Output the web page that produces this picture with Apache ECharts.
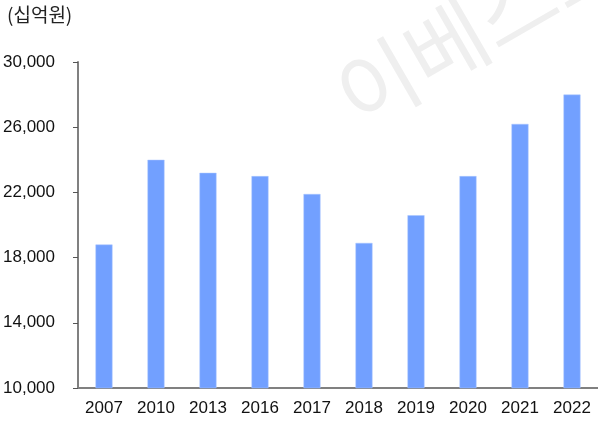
<!DOCTYPE html>
<html>
<head>
<meta charset="utf-8">
<script src="https://cdn.jsdelivr.net/npm/echarts@6/dist/echarts.min.js"></script>
<style>
html,body{margin:0;padding:0;background:#fff;}
#chart{width:598px;height:421px;}
</style>
</head>
<body>
<div id="chart"></div>
<script>
// 연도별 값 (십억원)
var years = ['2007','2010','2013','2016','2017','2018','2019','2020','2021','2022'];
var values = [18800, 24000, 23200, 23000, 21900, 18900, 20600, 23000, 26200, 28000];
var yTicks = [10000, 30000, 4000]; // min, max, interval

var labelFont = "'Liberation Sans Narrow', 'Arial Narrow', 'Liberation Sans', sans-serif";
var chart = echarts.init(document.getElementById('chart'));

var option = {
    animation: false,
    backgroundColor: '#fff',
    grid: { left: 76, right: 0, top: 62, bottom: 33, containLabel: false },
    graphic: [
        { //워터마크
            type: 'text', left: 322, top: -92, rotation: Math.PI / 6, z: -1,
            style: { text: '이베스트', fill: '#efefef', font: '86px "Noto Sans CJK KR"' }
        },
        {
            type: 'text', left: 7, top: 5,
            style: { text: '(십억원)', fill: '#222', font: '19px "Noto Sans CJK KR"' }
        }
    ],
    xAxis: {
        type: 'category',
        data: years,
        axisLine: { lineStyle: { color: '#808080', width: 2 } },
        axisTick: { alignWithLabel: false, length: 5, lineStyle: { color: '#222' } },
        axisLabel: { color: '#111', fontSize: 17, fontFamily: labelFont, margin: 12 }
    },
    yAxis: {
        type: 'value',
        min: yTicks[0],
        max: yTicks[1],
        interval: yTicks[2],
        splitLine: { show: false },
        axisLine: { show: true, lineStyle: { color: '#808080', width: 2 } },
        axisTick: { show: true, length: 5, lineStyle: { color: '#555' } },
        axisLabel: {
            color: '#111', fontSize: 17, fontFamily: labelFont, margin: 23,
            formatter: function (v) { return v.toLocaleString('en-US'); }
        }
    },
    series: [{
        type: 'bar',
        data: values,
        barWidth: 17,
        itemStyle: { color: '#72A0FF', borderColor: '#A9C5FF', borderWidth: 0.5 }
    }]
};
chart.setOption(option);
</script>
</body>
</html>
